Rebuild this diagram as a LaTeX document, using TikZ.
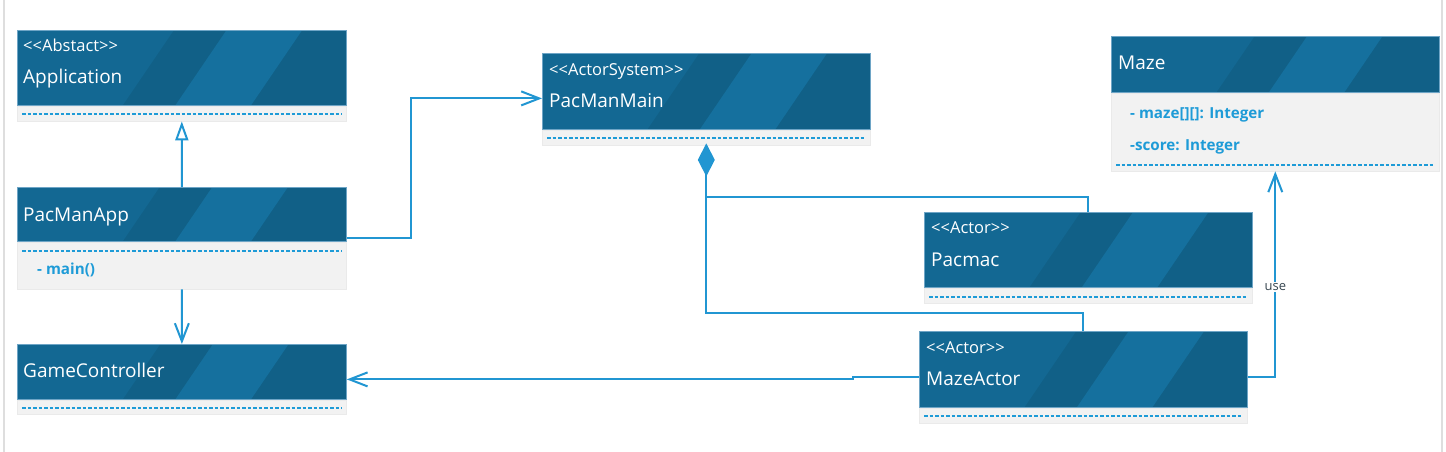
\documentclass[tikz,border=0pt]{standalone}
\usepackage{fontspec}
\setmainfont{Open Sans}
\usetikzlibrary{arrows.meta,calc}
\definecolor{hdrDark}{RGB}{17,96,135}
\definecolor{hdrMid}{RGB}{19,104,147}
\definecolor{hdrLight}{RGB}{21,112,158}
\definecolor{hdrLine}{RGB}{110,165,198}
\definecolor{compFill}{RGB}{242,242,242}
\definecolor{compLine}{RGB}{234,234,234}
\definecolor{umlBlue}{RGB}{30,155,215}
\definecolor{connBlue}{RGB}{33,150,210}
\definecolor{frameGray}{RGB}{222,222,222}
\definecolor{useGray}{RGB}{55,70,80}
\begin{document}
\begin{tikzpicture}[x=1pt,y=-1pt,
  hdr/.style 2 args={draw=hdrLine, line width=0.8pt, fill=hdrDark, anchor=north west,
    inner sep=0pt, minimum width=#1, minimum height=#2,
    path picture={
      \fill[hdrMid] let \p1=(path picture bounding box.south west),
                        \p2=(path picture bounding box.north east),
                        \n1={\x2-\x1}, \n2={0.68*(\y2-\y1)} in
        (\x1,\y1) -- ({\x1+0.32*\n1},\y1) -- ({\x1+0.32*\n1+\n2},\y2) -- (\x1,\y2) -- cycle;
      \fill[hdrLight] let \p1=(path picture bounding box.south west),
                        \p2=(path picture bounding box.north east),
                        \n1={\x2-\x1}, \n2={0.68*(\y2-\y1)} in
        ({\x1+0.48*\n1},\y1) -- ({\x1+0.71*\n1},\y1) -- ({\x1+0.71*\n1+\n2},\y2) -- ({\x1+0.48*\n1+\n2},\y2) -- cycle;
    }},
  comp/.style 2 args={draw=compLine, line width=0.6pt, fill=compFill, anchor=north west,
    inner sep=0pt, minimum width=#1, minimum height=#2},
  stereo/.style={text=white, font=\fontsize{16.5}{19}\selectfont, anchor=base west, inner sep=0pt},
  cname/.style={text=white, font=\fontsize{19}{22}\selectfont, anchor=base west, inner sep=0pt},
  attr/.style={text=umlBlue, font=\fontsize{15.2}{18}\selectfont\bfseries, anchor=base west, inner sep=0pt},
  sepline/.style={draw=umlBlue, line width=1.8pt, dash pattern=on 3.5pt off 2pt},
  conn/.style={draw=connBlue, line width=2pt},
  barb/.style={-{Straight Barb[length=18pt,width=14pt]}},
  uselbl/.style={fill=white, text=useGray, font=\fontsize{13}{15}\selectfont, inner sep=1.5pt},
  frameline/.style={draw=frameGray, line width=1.8pt}
]
\useasboundingbox (0,0) rectangle (1446,452);
\fill[white] (0,0) rectangle (1446,452);
\draw[frameline] (4,0) -- (4,452);
\draw[frameline] (1442,0) -- (1442,452);

% Application
\node[hdr={329}{75}] (appH) at (17,30) {};
\node[comp={329}{15}] (appC) at (appH.south west) {};
\node[stereo] (appS) at ([xshift=6pt,yshift=-22pt]appH.north west) {<\kern0pt<Abstact>\kern0pt>};
\node[cname] (appN) at ([xshift=6pt,yshift=-54pt]appH.north west) {Application};
\draw[sepline] ([xshift=5pt,yshift=-8pt]appC.north west) -- ([xshift=-5pt,yshift=-8pt]appC.north east);

% PacManApp
\node[hdr={329}{54}] (pmaH) at (17,187) {};
\node[comp={329}{47}] (pmaC) at (pmaH.south west) {};
\node[cname] (pmaN) at ([xshift=6pt,yshift=-34pt]pmaH.north west) {PacManApp};
\draw[sepline] ([xshift=5pt,yshift=-9pt]pmaC.north west) -- ([xshift=-5pt,yshift=-9pt]pmaC.north east);
\node[attr] (pmaA) at ([xshift=20pt,yshift=-33pt]pmaC.north west) {- main()};

% GameController
\node[hdr={329}{55}] (gcH) at (17,344) {};
\node[comp={329}{14}] (gcC) at (gcH.south west) {};
\node[cname] (gcN) at ([xshift=6pt,yshift=-33pt]gcH.north west) {GameController};
\draw[sepline] ([xshift=5pt,yshift=-8pt]gcC.north west) -- ([xshift=-5pt,yshift=-8pt]gcC.north east);

% PacManMain
\node[hdr={328}{76}] (pmmH) at (542,53) {};
\node[comp={328}{15}] (pmmC) at (pmmH.south west) {};
\node[stereo] (pmmS) at ([xshift=7pt,yshift=-22pt]pmmH.north west) {<\kern0pt<ActorSystem>\kern0pt>};
\node[cname] (pmmN) at ([xshift=7pt,yshift=-54pt]pmmH.north west) {PacManMain};
\draw[sepline] ([xshift=5pt,yshift=-8pt]pmmC.north west) -- ([xshift=-5pt,yshift=-8pt]pmmC.north east);

% Maze
\node[hdr={328}{56}] (mzH) at (1111,36) {};
\node[comp={328}{78}] (mzC) at (mzH.south west) {};
\node[cname] (mzN) at ([xshift=7pt,yshift=-34pt]mzH.north west) {Maze};
\node[attr] (mzA1) at ([xshift=19pt,yshift=-25.5pt]mzC.north west) {- maze[][]: Integer};
\node[attr] (mzA2) at ([xshift=19pt,yshift=-57.5pt]mzC.north west) {-score: Integer};
\draw[sepline] ([xshift=5pt,yshift=-72pt]mzC.north west) -- ([xshift=-5pt,yshift=-72pt]mzC.north east);

% Pacmac
\node[hdr={328}{75}] (pacH) at (924,212) {};
\node[comp={328}{15}] (pacC) at (pacH.south west) {};
\node[stereo] (pacS) at ([xshift=7pt,yshift=-21pt]pacH.north west) {<\kern0pt<Actor>\kern0pt>};
\node[cname] (pacN) at ([xshift=7pt,yshift=-54pt]pacH.north west) {Pacmac};
\draw[sepline] ([xshift=5pt,yshift=-9pt]pacC.north west) -- ([xshift=-5pt,yshift=-9pt]pacC.north east);

% MazeActor
\node[hdr={328}{76}] (maH) at (919,331) {};
\node[comp={328}{15}] (maC) at (maH.south west) {};
\node[stereo] (maS) at ([xshift=7pt,yshift=-22pt]maH.north west) {<\kern0pt<Actor>\kern0pt>};
\node[cname] (maN) at ([xshift=7pt,yshift=-54pt]maH.north west) {MazeActor};
\draw[sepline] ([xshift=5pt,yshift=-8pt]maC.north west) -- ([xshift=-5pt,yshift=-8pt]maC.north east);

% Connectors
\draw[conn, -{Triangle[open,length=19pt,width=13pt]}] (pmaH.north) -- (appC.south);
\draw[conn, barb] (pmaC.south) -- (gcH.north);
\draw[conn, barb] ([yshift=4pt]pmaH.south east) -- ++(64,0) |- ([yshift=-7pt]pmmH.west);
\draw[conn] (maH.north) |- ([yshift=-168pt]pmmC.south) -- ([yshift=-52pt]pmmC.south);
\draw[conn, -{Diamond[length=33pt,width=17pt,fill=connBlue]}] (pacH.north) |- ([yshift=-52pt]pmmC.south) -- ([yshift=2pt]pmmC.south);
\draw[conn, barb] ([yshift=-8pt]maH.west) -- ++(-66,0) -- ++(0,2) -- ([yshift=-7.5pt]gcH.east);
\draw[conn, barb] ([yshift=-8pt]maH.east) -| node[uselbl, pos=0.72] (useL) {use} (mzC.south);
\end{tikzpicture}
\end{document}
